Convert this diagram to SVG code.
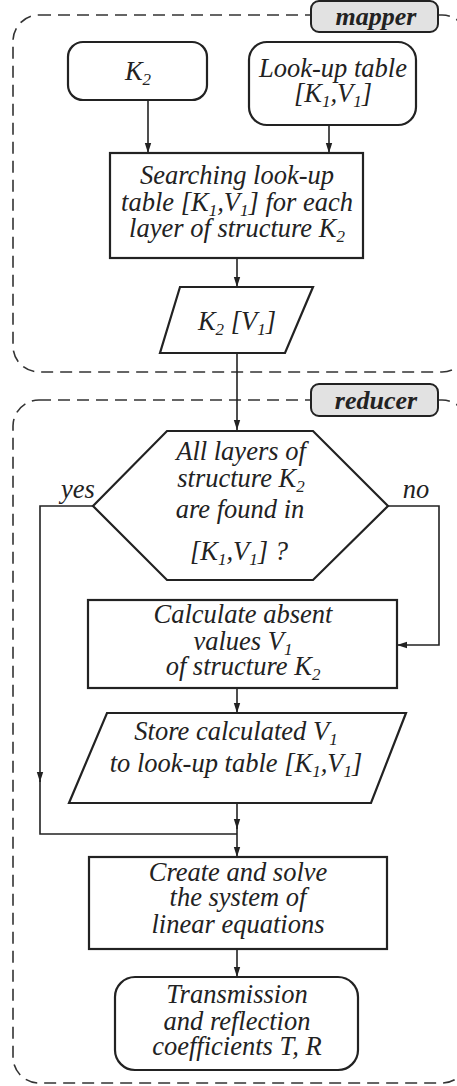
<svg xmlns="http://www.w3.org/2000/svg" width="457" height="1086" viewBox="0 0 457 1086">
<style>
.cont{fill:none;stroke:#333;stroke-width:1.6;stroke-dasharray:12 7}
.lab{fill:#e2e2e2;stroke:#222;stroke-width:2}
.box{fill:#fff;stroke:#222;stroke-width:2.2}
.con{fill:none;stroke:#222;stroke-width:1.6}
.t{font-family:"Liberation Serif","Times New Roman",serif;font-style:italic;font-size:26.5px;fill:#222;text-anchor:middle}
.lt{font-weight:bold;font-size:26px}
.s{font-size:17px}
</style>
<defs>
<marker id="ah" viewBox="0 0 10 10" refX="10" refY="5" markerWidth="10" markerHeight="10" markerUnits="userSpaceOnUse" orient="auto">
<path d="M0,1.8 L10,5 L0,8.2 Z" fill="#222"/>
</marker>
</defs>
<g id="mapper">
<rect class="cont" x="13" y="15" width="455" height="357" rx="26"/>
<rect class="lab" x="311" y="1" width="127" height="31" rx="8"/>
<text class="t lt" x="376" y="25">mapper</text>
</g>
<g id="reducer">
<rect class="cont" x="13" y="400" width="455" height="683" rx="26"/>
<rect class="lab" x="311" y="384" width="127" height="32" rx="8"/>
<text class="t lt" x="376" y="409">reducer</text>
</g>
<g id="connectors">
<line class="con" x1="148" y1="100" x2="148" y2="153" marker-end="url(#ah)"/>
<line class="con" x1="329" y1="125" x2="329" y2="153" marker-end="url(#ah)"/>
<line class="con" x1="237" y1="258" x2="237" y2="287" marker-end="url(#ah)"/>
<line class="con" x1="237" y1="353" x2="237" y2="430" marker-end="url(#ah)"/>
<polyline class="con" points="93,506 40,506 40,782" marker-end="url(#ah)"/>
<polyline class="con" points="40,780 40,834 237,834"/>
<polyline class="con" points="388,506 439,506 439,645 397,645" marker-end="url(#ah)"/>
<line class="con" x1="237" y1="688" x2="237" y2="713" marker-end="url(#ah)"/>
<line class="con" x1="237" y1="803" x2="237" y2="829" marker-end="url(#ah)"/>
<line class="con" x1="237" y1="826" x2="237" y2="857" marker-end="url(#ah)"/>
<line class="con" x1="237" y1="949" x2="237" y2="977" marker-end="url(#ah)"/>
</g>
<g id="k2">
<rect class="box" x="68" y="42" width="139" height="58" rx="15"/>
<text class="t" x="138" y="80">K<tspan class="s" dy="5">2</tspan></text>
</g>
<g id="lookup">
<rect class="box" x="249" y="42" width="167" height="83" rx="18"/>
<text class="t" x="333" y="77">Look-up table</text>
<text class="t" x="333" y="102">[K<tspan class="s" dy="5">1</tspan><tspan dy="-5">,V</tspan><tspan class="s" dy="5">1</tspan><tspan dy="-5">]</tspan></text>
</g>
<g id="search">
<rect class="box" x="110" y="153" width="253" height="105"/>
<text class="t" x="237" y="184">Searching look-up</text>
<text class="t" x="237" y="211">table [K<tspan class="s" dy="5">1</tspan><tspan dy="-5">,V</tspan><tspan class="s" dy="5">1</tspan><tspan dy="-5">] for each</tspan></text>
<text class="t" x="237" y="237">layer of structure K<tspan class="s" dy="5">2</tspan></text>
</g>
<g id="k2v1">
<polygon class="box" points="180,287 313,287 285,353 160,353"/>
<text class="t" x="237" y="330">K<tspan class="s" dy="5">2</tspan><tspan dy="-5"> [V</tspan><tspan class="s" dy="5">1</tspan><tspan dy="-5">]</tspan></text>
</g>
<g id="decision">
<polygon class="box" points="167,431 313,431 388,506 313,580 167,580 93,506"/>
<text class="t" x="241" y="460">All layers of</text>
<text class="t" x="241" y="487">structure K<tspan class="s" dy="5">2</tspan></text>
<text class="t" x="240" y="518">are found in</text>
<text class="t" x="239" y="560">[K<tspan class="s" dy="5">1</tspan><tspan dy="-5">,V</tspan><tspan class="s" dy="5">1</tspan><tspan dy="-5">] ?</tspan></text>
<text class="t" x="78" y="498">yes</text>
<text class="t" x="416" y="498">no</text>
</g>
<g id="calc">
<rect class="box" x="88" y="600" width="309" height="88"/>
<text class="t" x="243" y="623">Calculate absent</text>
<text class="t" x="243" y="650">values V<tspan class="s" dy="5">1</tspan></text>
<text class="t" x="243" y="675">of structure K<tspan class="s" dy="5">2</tspan></text>
</g>
<g id="store">
<polygon class="box" points="107,713 406,713 371,803 69,803"/>
<text class="t" x="236" y="740">Store calculated V<tspan class="s" dy="5">1</tspan></text>
<text class="t" x="236" y="772">to look-up table [K<tspan class="s" dy="5">1</tspan><tspan dy="-5">,V</tspan><tspan class="s" dy="5">1</tspan><tspan dy="-5">]</tspan></text>
</g>
<g id="create">
<rect class="box" x="89" y="857" width="298" height="92"/>
<text class="t" x="238" y="881">Create and solve</text>
<text class="t" x="238" y="906">the system of</text>
<text class="t" x="238" y="933">linear equations</text>
</g>
<g id="result">
<rect class="box" x="115" y="977" width="243" height="93" rx="20"/>
<text class="t" x="237" y="1003">Transmission</text>
<text class="t" x="237" y="1030">and reflection</text>
<text class="t" x="237" y="1055">coefficients T, R</text>
</g>
</svg>
